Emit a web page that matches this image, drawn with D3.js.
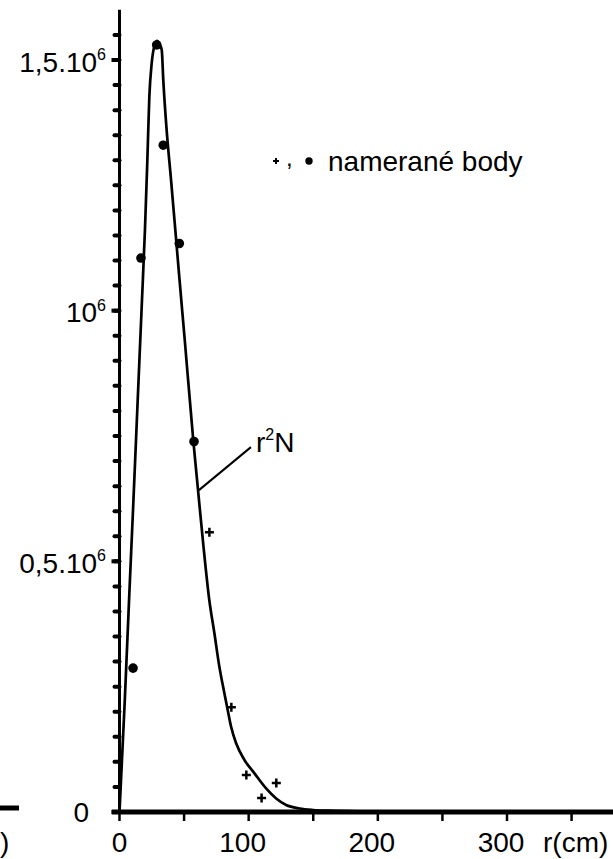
<!DOCTYPE html>
<html lang="sk">
<head>
<meta charset="UTF-8" />
<title>r2N - namerané body</title>
<script src="https://d3js.org/d3.v7.min.js"></script>
<style>
  body { margin: 0; background: #fff; }
  svg { display: block; }
  text { font-family: "Liberation Sans", Arial, sans-serif; fill: #000; }
</style>
</head>
<body>
<script>
  // r (cm) and r^2 N values of the smooth curve
  var curveR = [0, 4.1, 7.4, 10.8, 14.1, 17.4, 19.7, 21.5, 23.1, 24.9, 27, 29, 31, 32.7, 33.9, 36.5, 39.9,
                43.2, 46.5, 50.5, 57.1, 60.8, 65, 69.5, 73.5, 77.3, 81.2, 83.8, 86.4, 90.3, 96.7, 104.5,
                113.5, 121.3, 129, 139.4, 150, 162.6, 185, 230, 280, 325];
  var curveV = [0, 0.223, 0.423, 0.622, 0.822, 1.021, 1.161, 1.295, 1.427, 1.493, 1.528, 1.538, 1.532,
                1.52, 1.46, 1.36, 1.261, 1.161, 1.061, 0.942, 0.742, 0.642, 0.53, 0.423, 0.356, 0.29, 0.237,
                0.203, 0.17, 0.137, 0.104, 0.077, 0.047, 0.027, 0.014, 0.007, 0.004, 0.0026, 0.0015, 0.001,
                0.0008, 0.0006].map(function (v) { return v * 1e6; });

  // measured points: dots and crosses
  var dotR = [10.5, 16.6, 28.8, 33.9, 46.3, 57.7];
  var dotV = [0.287e6, 1.105e6, 1.53e6, 1.33e6, 1.134e6, 0.739e6];
  var crossR = [69.6, 86.6, 98.2, 110, 121.4];
  var crossV = [0.558e6, 0.209e6, 0.074e6, 0.028e6, 0.058e6];

  var xTicks = [0, 100, 200, 300];
  var xMinorTicks = [50, 150, 250, 350];
  var yTicks = [0, 0.5e6, 1e6, 1.5e6];
  var yTickLabels = [["0", ""], ["0,5.10", "6"], ["10", "6"], ["1,5.10", "6"]];
  var yMinorTicks = d3.range(0.05e6, 1.56e6, 0.05e6);
  var xTitle = "r(cm)";
  var curveName = ["r", "2", "N"];
  var curveLabelAt = [61.5, 0.642e6];   // point on curve the leader goes to
  var legendText = "nameran\u00e9 body";

  var w = 613, h = 859;
  var fs = 28;
  var xLabelY = 852;

  var x = d3.scaleLinear().domain([0, 300]).range([119.5, 507]);
  var y = d3.scaleLinear().domain([0, 1.5e6]).range([812, 60]);

  var svg = d3.select("body").append("svg")
      .attr("width", w)
      .attr("height", h);

  function addText(px, py, anchor, size) {
      return svg.append("text")
          .attr("x", px).attr("y", py)
          .attr("text-anchor", anchor)
          .attr("font-size", size);
  }

  // left over pieces of the neighbouring graph
  svg.append("line").attr("x1", 0).attr("x2", 19).attr("y1", 808).attr("y2", 808)
      .attr("stroke", "#000").attr("stroke-width", 5);
  addText(0, xLabelY, "start", fs).text(")");

  // y axis
  svg.append("line")
      .attr("x1", x(0)).attr("x2", x(0))
      .attr("y1", y(0)).attr("y2", y(1.6e6))
      .attr("stroke", "#000").attr("stroke-width", 3);

  svg.append("g").selectAll("line")
      .data(yMinorTicks)
      .enter().append("line")
      .attr("x1", x(0) - 5).attr("x2", x(0))
      .attr("y1", function (d) { return y(d); })
      .attr("y2", function (d) { return y(d); })
      .attr("stroke", "#000").attr("stroke-width", 4).attr("stroke-linecap", "round");

  svg.append("g").selectAll("line")
      .data(yTicks)
      .enter().append("line")
      .attr("x1", x(0) - 8).attr("x2", x(0))
      .attr("y1", function (d) { return y(d); })
      .attr("y2", function (d) { return y(d); })
      .attr("stroke", "#000").attr("stroke-width", 4);

  yTicks.forEach(function (v, i) {
      var lab = yTickLabels[i];
      var t = addText(lab[1] ? 106 : 89, y(v) + (lab[1] ? 11.7 : 10), "end", fs);
      t.append("tspan").text(lab[0]);
      if (lab[1]) {
          t.append("tspan").attr("font-size", 16).attr("dy", -11.7).text(lab[1]);
      }
  });

  // x axis
  svg.append("line")
      .attr("x1", x(-6)).attr("x2", w)
      .attr("y1", y(0)).attr("y2", y(0))
      .attr("stroke", "#000").attr("stroke-width", 5);

  svg.append("g").selectAll("line")
      .data(xTicks.concat(xMinorTicks))
      .enter().append("line")
      .attr("x1", function (d) { return x(d); })
      .attr("x2", function (d) { return x(d); })
      .attr("y1", y(0)).attr("y2", y(0) + 9)
      .attr("stroke", "#000").attr("stroke-width", 2.5);

  xTicks.forEach(function (v) {
      addText(x(v) - (v === 0 ? 0 : 6), xLabelY, "middle", fs).text(v);
  });
  addText(543, xLabelY, "start", fs).text(xTitle);

  // curve
  var line = d3.line()
      .x(function (d, i) { return x(curveR[i]); })
      .y(function (d, i) { return y(curveV[i]); })
      .curve(d3.curveMonotoneX);

  svg.append("path")
      .datum(curveR)
      .attr("d", line)
      .attr("fill", "none")
      .attr("stroke", "#000")
      .attr("stroke-width", 2.7);

  // measured points
  svg.append("g").selectAll("circle")
      .data(dotR)
      .enter().append("circle")
      .attr("cx", function (d) { return x(d); })
      .attr("cy", function (d, i) { return y(dotV[i]); })
      .attr("r", 4.8)
      .attr("fill", "#000");

  function crossPath(cx, cy, s) {
      return "M" + (cx - s) + "," + cy + "H" + (cx + s) + "M" + cx + "," + (cy - s) + "V" + (cy + s);
  }

  svg.append("g").selectAll("path")
      .data(crossR)
      .enter().append("path")
      .attr("d", function (d, i) { return crossPath(x(d), y(crossV[i]), 4.5); })
      .attr("stroke", "#000")
      .attr("stroke-width", 2.5);

  // r^2 N label with leader
  var ax = x(curveLabelAt[0]), ay = y(curveLabelAt[1]);
  svg.append("line")
      .attr("x1", ax).attr("y1", ay)
      .attr("x2", ax + 52).attr("y2", ay - 43)
      .attr("stroke", "#000").attr("stroke-width", 2);
  var rl = addText(ax + 57, ay - 38, "start", fs);
  rl.append("tspan").text(curveName[0]);
  rl.append("tspan").attr("font-size", 16).attr("dy", -11.7).text(curveName[1]);
  rl.append("tspan").attr("dy", 11.7).text(curveName[2]);

  // legend
  svg.append("path")
      .attr("d", crossPath(276, 161, 3))
      .attr("stroke", "#000").attr("stroke-width", 2);
  addText(286, 166, "start", 24).text(",");
  svg.append("circle").attr("cx", 309).attr("cy", 161).attr("r", 3.7).attr("fill", "#000");
  addText(328, 171, "start", fs).text(legendText);
</script>
</body>
</html>
